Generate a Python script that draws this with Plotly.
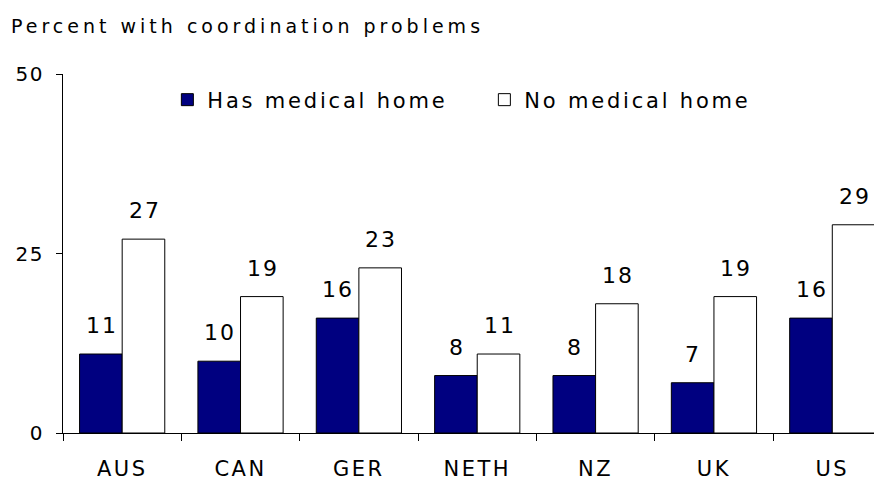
import plotly.graph_objects as go

countries = ["AUS", "CAN", "GER", "NETH", "NZ", "UK", "US"]
has_home = [11, 10, 16, 8, 8, 7, 16]
no_home = [27, 19, 23, 11, 18, 19, 29]
y_ticks = [0, 25, 50]

FONT = "DejaVu Sans"


def spaced(text, px):
    return f'<span style="letter-spacing:{px}px">{text}</span>'


W, H = 882, 486
L, R, T, B = 50, 8, 66, 61
PW, PH = W - L - R, H - T - B

fig = go.Figure()
fig.add_trace(go.Bar(name=spaced("Has medical home", 2.8), x=countries, y=has_home,
                     marker=dict(color="#000080", line=dict(color="#000000", width=1))))
fig.add_trace(go.Bar(name=spaced("No medical home", 2.8), x=countries, y=no_home,
                     marker=dict(color="#ffffff", line=dict(color="#000000", width=1))))

annotations = []
for series, shift in ((has_home, -21.5), (no_home, 21.5)):
    for c, v in zip(countries, series):
        annotations.append(dict(x=c, y=v, text=spaced(str(v), 2), showarrow=False,
                                xref="x", yref="y", xshift=shift + 1, yshift=14,
                                yanchor="bottom",
                                font=dict(family=FONT, size=22, color="#000000")))

annotations.append(dict(x=(-L - 4) / PW, y=1 + (T - 5) / PH, xref="paper", yref="paper",
                        xanchor="left", yanchor="top",
                        text=spaced("Percent with coordination problems", 4.0),
                        showarrow=False,
                        font=dict(family=FONT, size=19, color="#000000")))

fig.update_layout(
    width=W, height=H,
    margin=dict(l=L, r=R, t=T, b=B),
    paper_bgcolor="white", plot_bgcolor="white",
    barmode="group", bargap=0.28, bargroupgap=0,
    font=dict(family=FONT, size=19, color="#000000"),
    showlegend=True,
    legend=dict(orientation="h", x=105 / PW, y=1 - 26 / PH, xanchor="left", yanchor="middle",
                font=dict(family=FONT, size=21), entrywidth=272, entrywidthmode="pixels",
                bgcolor="rgba(0,0,0,0)"),
    annotations=annotations,
)

fig.update_xaxes(type="category", range=[-0.5, 6.42], showline=True, linecolor="#000000",
                 linewidth=1, ticks="outside", tickson="boundaries", ticklen=7,
                 tickcolor="#000000", showgrid=False, ticklabelstandoff=17,
                 tickvals=countries, ticktext=[spaced(c, 2.5) for c in countries],
                 tickfont=dict(family=FONT, size=21))
fig.update_yaxes(range=[0, 50], tickvals=y_ticks, showline=True, linecolor="#000000",
                 linewidth=1, ticks="outside", ticklen=6, tickcolor="#000000",
                 showgrid=False, zeroline=False, ticklabelstandoff=8,
                 ticktext=[spaced(str(t), 1.5) for t in y_ticks],
                 tickfont=dict(family=FONT, size=20))

fig.write_html("out.html")
